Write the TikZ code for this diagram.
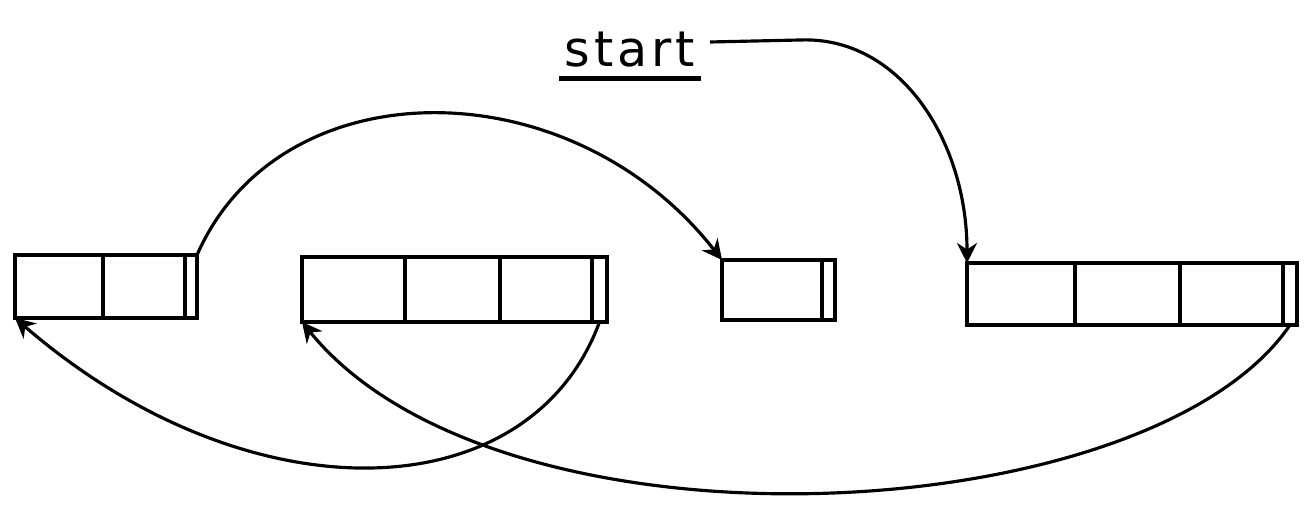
\documentclass[tikz,border=0pt]{standalone}
\usepackage{fontspec}
\usepackage{tikz}
\usetikzlibrary{arrows.meta,positioning}
\newfontfamily\handfont[LetterSpace=8]{DejaVu Sans}

\begin{document}
\begin{tikzpicture}[
    cell/.style={rectangle, draw, line width=1.1pt, inner sep=0pt, outer sep=0pt,
                 minimum height=0.63cm},
    link/.style={line width=0.9pt, -{Stealth[length=2mm, width=2mm]}}]
\useasboundingbox (0,0) rectangle (13.11,5.31);

% record a
\node[cell, minimum width=0.88cm] (a1) at (0.59, 2.445) {};
\node[cell, minimum width=0.82cm, right=0pt of a1] (a2) {};
\node[cell, minimum width=0.12cm, right=0pt of a2] (ap) {};
% record b
\node[cell, minimum width=1.03cm, minimum height=0.65cm] (b1) at (3.535, 2.415) {};
\node[cell, minimum width=0.95cm, minimum height=0.65cm, right=0pt of b1] (b2) {};
\node[cell, minimum width=0.92cm, minimum height=0.65cm, right=0pt of b2] (b3) {};
\node[cell, minimum width=0.15cm, minimum height=0.65cm, right=0pt of b3] (bp) {};
% record c
\node[cell, minimum width=1.00cm, minimum height=0.60cm] (c1) at (7.72, 2.41) {};
\node[cell, minimum width=0.13cm, minimum height=0.60cm, right=0pt of c1] (cp) {};
% record d
\node[cell, minimum width=1.08cm, minimum height=0.62cm] (d1) at (10.21, 2.37) {};
\node[cell, minimum width=1.05cm, minimum height=0.62cm, right=0pt of d1] (d2) {};
\node[cell, minimum width=1.03cm, minimum height=0.62cm, right=0pt of d2] (d3) {};
\node[cell, minimum width=0.14cm, minimum height=0.62cm, right=0pt of d3] (dp) {};

\node[font=\handfont\fontsize{14}{16}\selectfont, anchor=base, inner xsep=0.05cm,
      inner ysep=0.1cm] (start) at (6.30, 4.64) {start};
\draw[line width=1.3pt] (start.south west) -- (start.south east);
\coordinate (lead) at (7.10, 4.89);
\coordinate (bend) at (8.00, 4.91);

\draw[link] (lead) -- (bend) .. controls (9.0, 4.95) and (9.67, 3.9) .. (d1.north west);
\draw[link] (ap.north east) .. controls (2.8, 4.65) and (5.7, 4.65) .. (c1.north west);
\draw[link] (bp.south) .. controls (5.3, 0.2) and (2.5, 0.1) .. (a1.south west);
\draw[link] (dp.south) .. controls (11.5, 0.0) and (5.0, -0.35) .. (b1.south west);
\end{tikzpicture}
\end{document}
